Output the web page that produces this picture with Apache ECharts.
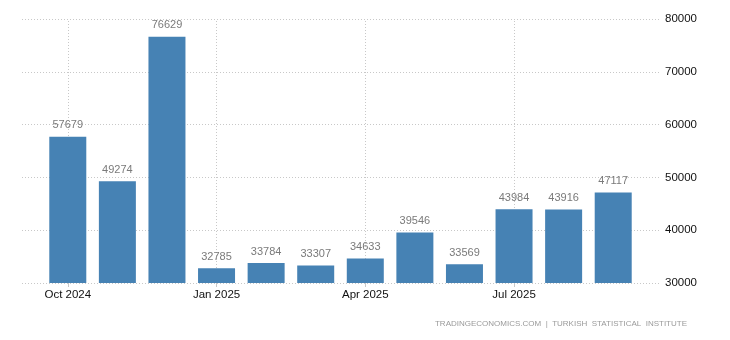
<!DOCTYPE html>
<html>
<head>
<meta charset="utf-8">
<script src="https://cdn.jsdelivr.net/npm/echarts@6/dist/echarts.min.js"></script>
<style>
  html, body { margin: 0; padding: 0; background: #fff; }
  #chart { width: 730px; height: 340px; }
</style>
</head>
<body>
<div id="chart"></div>
<script>
// Monthly values, Oct 2024 - Sep 2025
const months = ['Oct 2024', 'Nov 2024', 'Dec 2024', 'Jan 2025', 'Feb 2025', 'Mar 2025',
                'Apr 2025', 'May 2025', 'Jun 2025', 'Jul 2025', 'Aug 2025', 'Sep 2025'];
const values = [57679, 49274, 76629, 32785, 33784, 33307, 34633, 39546, 33569, 43984, 43916, 47117];
const yTicks = [30000, 40000, 50000, 60000, 70000, 80000];
const markedMonths = ['Oct 2024', 'Jan 2025', 'Apr 2025', 'Jul 2025'];
const sourceText = 'TRADINGECONOMICS.COM  |  TURKISH  STATISTICAL  INSTITUTE';

const yMin = yTicks[0];
const yMax = yTicks[yTicks.length - 1];
const yStep = yTicks[1] - yTicks[0];

const chart = echarts.init(document.getElementById('chart'), null, { renderer: 'canvas' });

const gridLine = { color: '#c8c8c8', type: [1, 2], width: 1 };
const font = 'Arial, "Liberation Sans", sans-serif';

chart.setOption({
  animation: false,
  backgroundColor: '#ffffff',
  grid: [
    // wide grid: horizontal grid lines and the value labels on the right
    { left: 22, right: 70, top: 19, bottom: 57 },
    // inner grid: the bars
    { left: 43, right: 92, top: 19, bottom: 57 }
  ],
  xAxis: [
    { type: 'category', gridIndex: 0, data: months, show: false },
    {
      type: 'category', gridIndex: 1, data: months,
      axisLine: { show: false },
      axisTick: { show: true, interval: 2, alignWithLabel: true, length: 4, lineStyle: { color: '#c8c8c8' } },
      axisLabel: { interval: 2, color: '#111', fontSize: 11.5, fontFamily: font, margin: 6 },
      splitLine: { show: false }
    }
  ],
  yAxis: [
    {
      type: 'value', gridIndex: 0, position: 'right',
      min: yMin, max: yMax, interval: yStep,
      axisLine: { show: false }, axisTick: { show: false },
      axisLabel: { color: '#111', fontSize: 11.5, fontFamily: font, margin: 5, formatter: v => String(v) },
      splitLine: { show: true, lineStyle: gridLine }
    },
    {
      type: 'value', gridIndex: 1, min: yMin, max: yMax, interval: yStep, show: false,
      splitLine: { show: false }
    }
  ],
  series: [
    {
      type: 'bar',
      xAxisIndex: 1, yAxisIndex: 1,
      data: values,
      barWidth: 37,
      itemStyle: { color: '#4682b4' },
      label: {
        show: true, position: 'top', distance: 6,
        color: '#7a7a7a', fontSize: 11, fontFamily: font
      },
      markLine: {
        silent: true, symbol: 'none', z: 1,
        label: { show: false },
        lineStyle: gridLine,
        data: markedMonths.map(m => ({ xAxis: m }))
      },
      z: 3
    }
  ],
  graphic: [
    {
      type: 'text', right: 43, top: 320,
      style: { text: sourceText, fill: '#9a9a9a', font: '8px ' + font }
    }
  ]
});
</script>
</body>
</html>
